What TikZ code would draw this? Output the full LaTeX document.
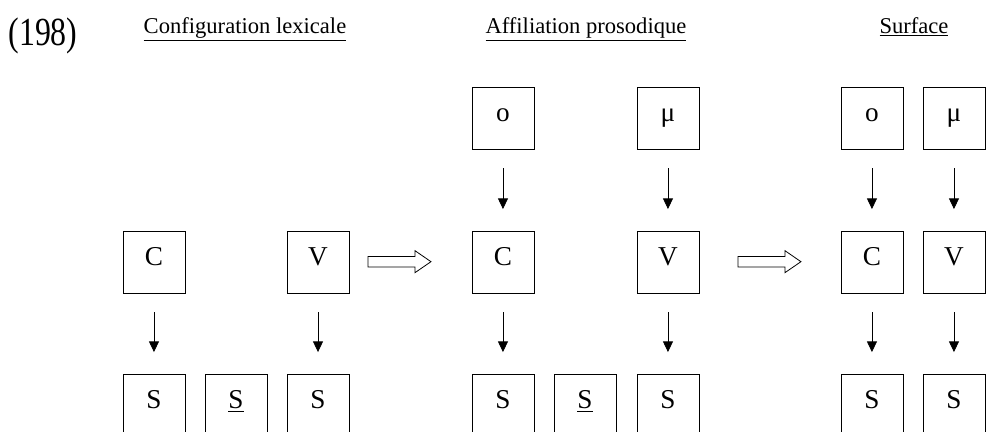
\documentclass[tikz,border=0pt]{standalone}
\usepackage{fontspec}
\setmainfont{Liberation Serif}
\usepackage{graphicx}
\usepackage{tikz}
\usetikzlibrary{arrows.meta}

\tikzset{
  implies/.pic={
    \draw[semithick] (-0.833,0.139) -- (0.410,0.139) -- (0.410,0.291) -- (0.833,0)
      -- (0.410,-0.291) -- (0.410,-0.139) -- (-0.833,-0.139) -- cycle;
  }
}

\begin{document}
\begin{tikzpicture}[
  seg/.style={draw, semithick, minimum width=1.64cm, minimum height=1.64cm, inner sep=0pt, text height=0.40cm, text depth=0.19cm, font=\fontsize{20.5}{24}\selectfont},
  head/.style={anchor=base, font=\fontsize{17}{20}\selectfont},
  arr/.style={-{Triangle[length=8pt, width=7.5pt]}, semithick, shorten <=0.50cm, shorten >=0.57cm}
]
  \useasboundingbox (0,0) rectangle (26.115,11.430);

  % titles
  \node[anchor=base, font=\fontsize{30}{34}\selectfont] (ex) at (1.138, 10.239) {\scalebox{0.8}[1]{(198)}};
  \node[head] (t1) at (6.482, 10.543) {\underline{Configuration lexicale}};
  \node[head] (t2) at (15.504, 10.543) {\underline{Affiliation prosodique}};
  \node[head] (t3) at (24.183, 10.543) {\underline{Surface}};

  % 1. Configuration lexicale
  \node[seg] (lc) at (4.074, 4.498) {C};
  \node[seg] (lv) at (8.414, 4.498) {V};
  \node[seg] (ls1) at (4.074, 0.714) {S};
  \node[seg] (ls2) at (6.244, 0.714) {\underline{S}};
  \node[seg] (ls3) at (8.414, 0.714) {S};

  \draw[arr] (lc) -- (ls1);
  \draw[arr] (lv) -- (ls3);

  \pic at (10.570, 4.506) {implies};

  % 2. Affiliation prosodique
  \node[seg] (po) at (13.308, 8.308) {o};
  \node[seg] (pmu) at (17.674, 8.308) {μ};
  \node[seg] (pc) at (13.308, 4.498) {C};
  \node[seg] (pv) at (17.674, 4.498) {V};
  \node[seg] (ps1) at (13.308, 0.714) {S};
  \node[seg] (ps2) at (15.478, 0.714) {\underline{S}};
  \node[seg] (ps3) at (17.674, 0.714) {S};

  \draw[arr] (po) -- (pc);
  \draw[arr] (pmu) -- (pv);
  \draw[arr] (pc) -- (ps1);
  \draw[arr] (pv) -- (ps3);

  \pic at (20.359, 4.506) {implies};

  % 3. Surface
  \node[seg] (so) at (23.071, 8.308) {o};
  \node[seg] (smu) at (25.241, 8.308) {μ};
  \node[seg] (sc) at (23.071, 4.498) {C};
  \node[seg] (sv) at (25.241, 4.498) {V};
  \node[seg] (ss1) at (23.071, 0.714) {S};
  \node[seg] (ss2) at (25.241, 0.714) {S};

  \draw[arr] (so) -- (sc);
  \draw[arr] (smu) -- (sv);
  \draw[arr] (sc) -- (ss1);
  \draw[arr] (sv) -- (ss2);

\end{tikzpicture}
\end{document}
